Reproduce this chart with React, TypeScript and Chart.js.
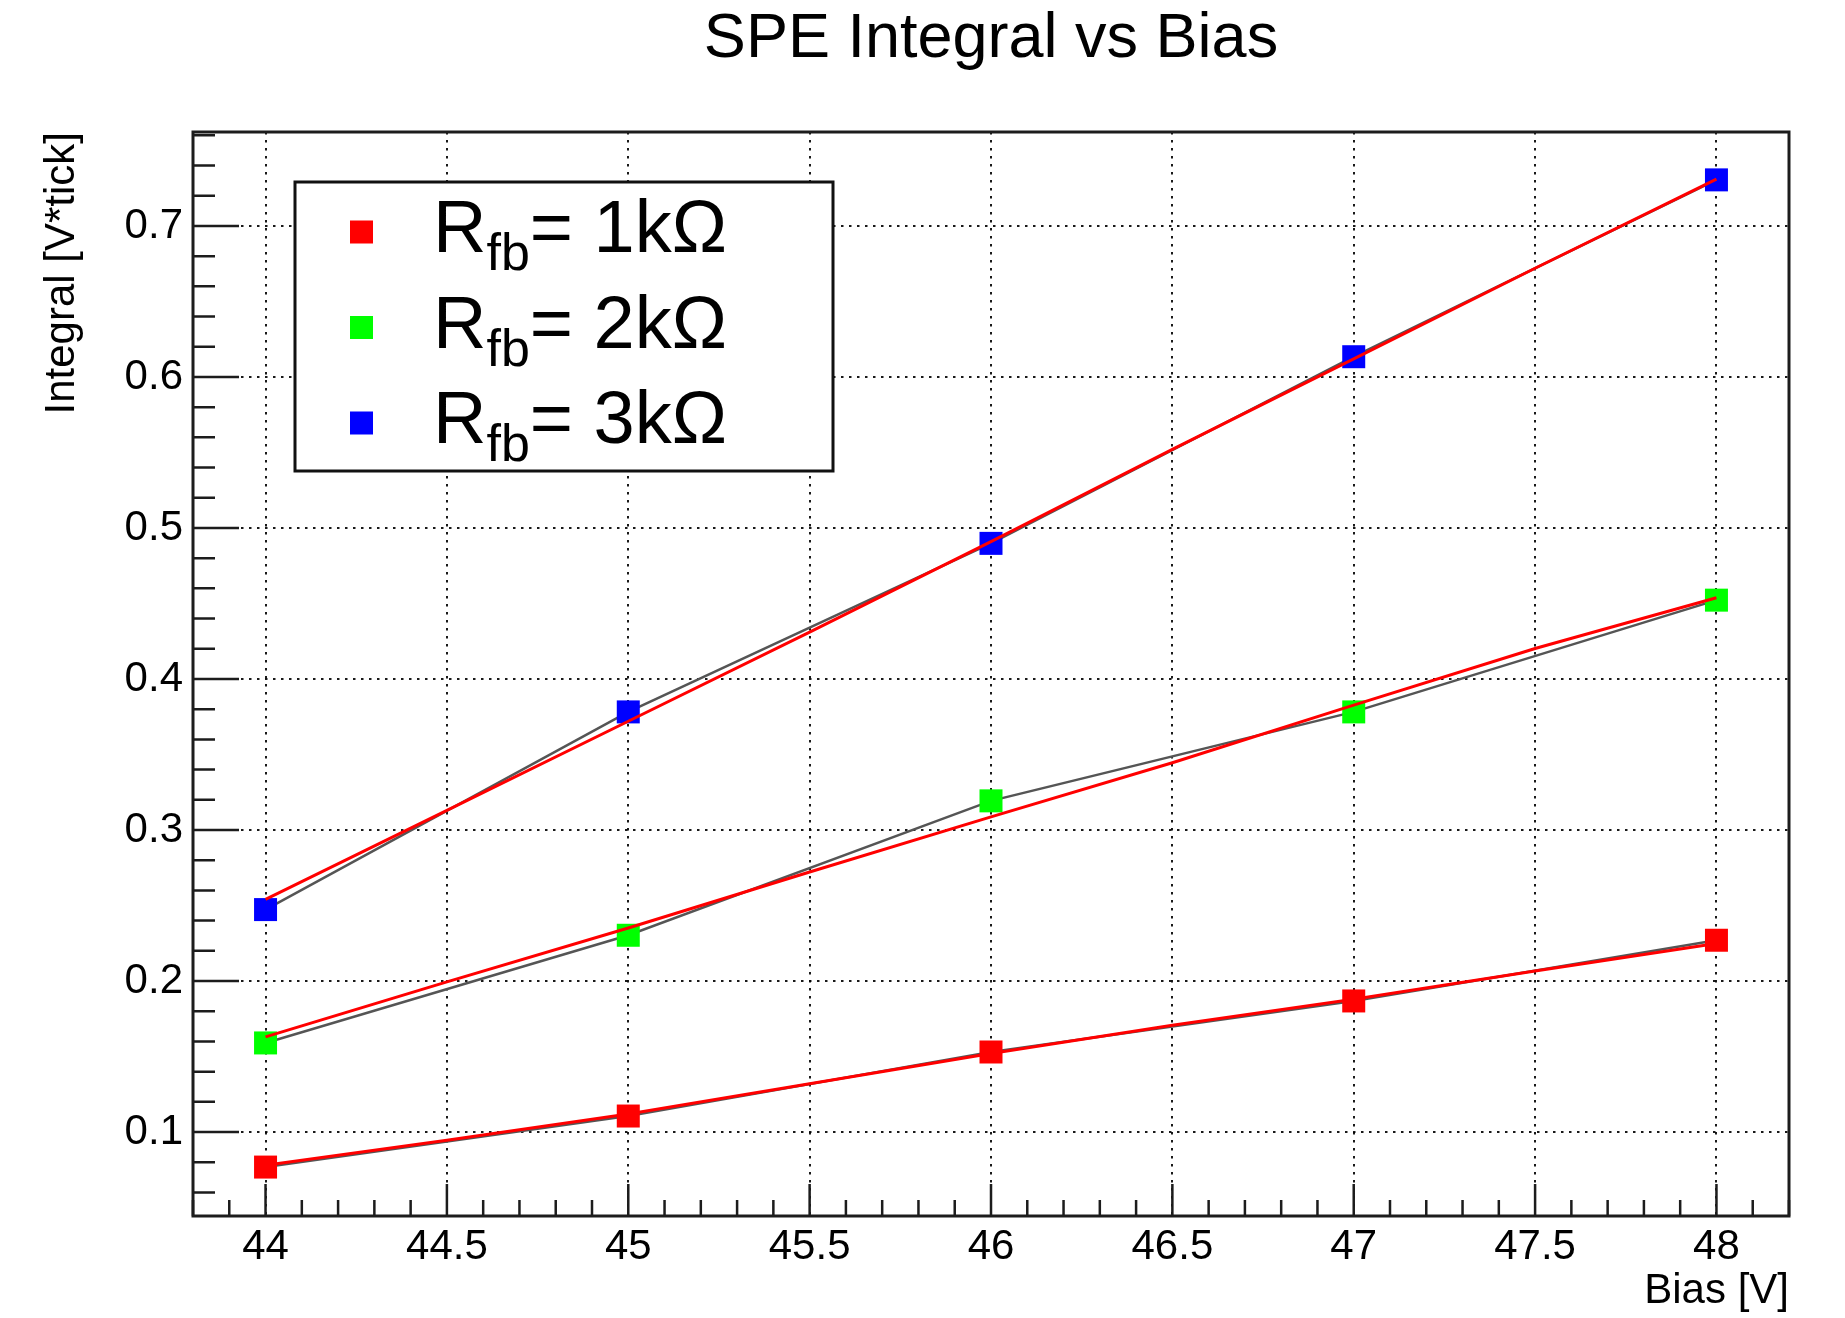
import React, { useEffect, useRef } from "react";
import { Chart, registerables } from "chart.js";

Chart.register(...registerables);

// ---------- data ----------
const biasValues = [44, 45, 46, 47, 48];
const integral1k = [0.0768, 0.1106, 0.153, 0.1868, 0.227];
const integral2k = [0.159, 0.2303, 0.3193, 0.3782, 0.4522];
const integral3k = [0.2473, 0.3782, 0.4898, 0.6134, 0.7305];

// fitted curves (red), read at these bias values
const fitBias = [44, 44.5, 45, 45.5, 46, 46.5, 47, 47.5, 48];
const fit1k = [0.078, 0.0945, 0.112, 0.132, 0.152, 0.1707, 0.1879, 0.2067, 0.2248];
const fit2k = [0.163, 0.1994, 0.2351, 0.2722, 0.3087, 0.3445, 0.3827, 0.4202, 0.4538];
const fit3k = [0.254, 0.313, 0.372, 0.431, 0.491, 0.552, 0.612, 0.672, 0.731];

const seriesValues = [integral1k, integral2k, integral3k];
const fitValues = [fit1k, fit2k, fit3k];
const seriesNames = ["1kΩ", "2kΩ", "3kΩ"];
const seriesColors = ["#ff0000", "#00ff00", "#0000ff"];
const legendMain = "R";
const legendSub = "fb";

const titleText = "SPE Integral vs Bias";
const xTitle = "Bias [V]";
const yTitle = "Integral [V*tick]";
const xRange = [43.8, 48.2];
const yRange = [0.0444, 0.7622];
const xStep = 0.5;
const yStep = 0.1;

// ---------- layout constants ----------
const W = 1845;
const H = 1318;
const FONT = '"Liberation Sans", Arial, Helvetica, sans-serif';
const FRAME_COLOR = "#1c1c1c";

const toPoints = (xs: number[], ys: number[]) => xs.map((x, i) => ({ x, y: ys[i] }));
const fmt = (v: number) => String(Math.round(v * 10) / 10);

const framePlugin = {
  id: "rootFrame",
  afterDatasetsDraw(chart: any) {
    const { ctx, chartArea: a, scales } = chart;
    const xs = scales.x;
    const ys = scales.y;
    ctx.save();
    ctx.strokeStyle = FRAME_COLOR;
    ctx.lineWidth = 2.5;
    ctx.beginPath();
    for (let k = Math.ceil(xs.min * 10 - 1e-6); k <= Math.floor(xs.max * 10 + 1e-6); k++) {
      const px = xs.getPixelForValue(k / 10);
      const len = k % 5 === 0 ? 32 : 16;
      ctx.moveTo(px, a.bottom);
      ctx.lineTo(px, a.bottom - len);
    }
    for (let k = Math.ceil(ys.min * 50 - 1e-6); k <= Math.floor(ys.max * 50 + 1e-6); k++) {
      const py = ys.getPixelForValue(k / 50);
      const len = k % 5 === 0 ? 46 : 22;
      ctx.moveTo(a.left, py);
      ctx.lineTo(a.left + len, py);
    }
    ctx.stroke();
    ctx.lineWidth = 3;
    ctx.strokeRect(a.left, a.top, a.right - a.left, a.bottom - a.top);
    ctx.restore();
  },
};

const legendPlugin = {
  id: "rootLegend",
  afterDraw(chart: any) {
    const { ctx } = chart;
    const box = { x: 295, y: 182, w: 538, h: 289 };
    ctx.save();
    ctx.fillStyle = "#ffffff";
    ctx.fillRect(box.x, box.y, box.w, box.h);
    ctx.strokeStyle = "#111111";
    ctx.lineWidth = 3;
    ctx.strokeRect(box.x, box.y, box.w, box.h);
    seriesNames.forEach((name, i) => {
      const base = box.y + 70 + i * 95.5;
      ctx.fillStyle = seriesColors[i];
      ctx.fillRect(box.x + 55, base - 31.5, 23, 23);
      ctx.fillStyle = "#000";
      ctx.textBaseline = "alphabetic";
      ctx.textAlign = "left";
      let x = box.x + 138;
      ctx.font = `74px ${FONT}`;
      ctx.fillText(legendMain, x, base);
      x += ctx.measureText(legendMain).width;
      ctx.font = `52px ${FONT}`;
      ctx.fillText(legendSub, x, base + 18);
      x += ctx.measureText(legendSub).width;
      ctx.font = `74px ${FONT}`;
      ctx.fillText("= " + name, x, base);
    });
    ctx.restore();
  },
};

export default function App() {
  const ref = useRef<HTMLCanvasElement>(null);

  useEffect(() => {
    const canvas = ref.current;
    if (!canvas) return;

    const fitSets = fitValues.map((vals, i) => ({
      label: `fit R_fb= ${seriesNames[i]}`,
      data: toPoints(fitBias, vals),
      showLine: true,
      borderColor: "#ff0000",
      borderWidth: 3,
      pointRadius: 0,
      pointHoverRadius: 0,
      tension: 0,
    }));
    const dataSets = seriesValues.map((vals, i) => ({
      label: `R_fb= ${seriesNames[i]}`,
      data: toPoints(biasValues, vals),
      showLine: true,
      borderColor: "#555555",
      borderWidth: 2.5,
      pointStyle: "rect" as const,
      pointRadius: 16.26,
      pointHoverRadius: 16.26,
      pointBackgroundColor: seriesColors[i],
      pointBorderWidth: 0,
      pointHoverBorderWidth: 0,
      tension: 0,
    }));

    const tickFont = { family: FONT, size: 42, lineHeight: 1.2 };

    const chart = new Chart(canvas, {
      type: "scatter",
      data: { datasets: [...fitSets, ...dataSets] as any },
      plugins: [framePlugin, legendPlugin],
      options: {
        responsive: false,
        animation: false,
        events: [],
        layout: { padding: { top: 0, right: 56, bottom: 0, left: 0 } },
        plugins: {
          legend: { display: false },
          tooltip: { enabled: false },
          title: {
            display: true,
            text: titleText,
            fullSize: false,
            color: "#000",
            font: { family: FONT, size: 63, weight: "normal", lineHeight: 1.2 },
            padding: { top: 2.2, bottom: 54.2 },
          },
        },
        scales: {
          x: {
            type: "linear",
            position: "bottom",
            min: xRange[0],
            max: xRange[1],
            ticks: {
              stepSize: xStep,
              includeBounds: false,
              autoSkip: false,
              maxRotation: 0,
              padding: 6,
              color: "#000",
              font: tickFont,
              callback: (v: any) => fmt(Number(v)),
            },
            grid: { color: "rgba(0,0,0,0.9)", lineWidth: 2, drawTicks: false },
            border: { display: false, dash: [2.5, 5.5] },
            title: {
              display: true,
              text: xTitle,
              align: "end",
              color: "#000",
              font: { family: FONT, size: 42, lineHeight: 1.2 },
              padding: { top: 0, bottom: 1 },
            },
            afterFit: (s: any) => {
              s.height = 102;
            },
          },
          y: {
            type: "linear",
            position: "left",
            min: yRange[0],
            max: yRange[1],
            ticks: {
              stepSize: yStep,
              includeBounds: false,
              autoSkip: false,
              padding: 10,
              color: "#000",
              font: tickFont,
              callback: (v: any) => fmt(Number(v)),
            },
            grid: { color: "rgba(0,0,0,0.9)", lineWidth: 2, drawTicks: false },
            border: { display: false, dash: [2.5, 5.5] },
            title: {
              display: true,
              text: yTitle,
              align: "end",
              color: "#000",
              font: { family: FONT, size: 42, lineHeight: 1.2 },
              padding: { top: 37, bottom: 0 },
            },
            afterFit: (s: any) => {
              s.width = 193;
            },
          },
        },
      } as any,
    });

    return () => chart.destroy();
  }, []);

  return (
    <div style={{ position: "absolute", left: 0, top: 0, width: W, height: H, background: "#ffffff" }}>
      <canvas ref={ref} width={W} height={H} style={{ display: "block" }} />
    </div>
  );
}
